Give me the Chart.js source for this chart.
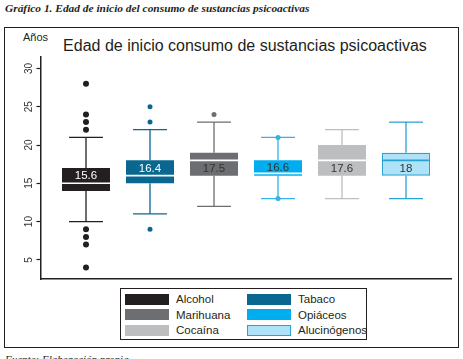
<!DOCTYPE html>
<html lang="es">
<head>
<meta charset="UTF-8">
<title>Edad de inicio consumo de sustancias psicoactivas</title>
<script src="https://cdn.jsdelivr.net/npm/chart.js"></script>
<style>
    body { margin: 0; width: 463px; height: 359px; overflow: hidden; background: #fff; position: relative; font-family: "Liberation Sans", Arial, sans-serif; color: #231f20; }
    .caption { position: absolute; left: 5px; top: 2px; font: italic bold 11.4px "Liberation Serif", "DejaVu Serif", serif; white-space: nowrap; }
    .frame { position: absolute; left: 4px; top: 27px; width: 455px; height: 321px; box-sizing: border-box; border: 1.5px solid #231f20; }
    .title { position: absolute; left: 0; width: 490px; top: 37px; text-align: center; font-size: 16px; white-space: nowrap; }
    .unit { position: absolute; left: 23px; top: 31px; font-size: 11px; }
    .source { position: absolute; left: 5px; top: 353px; font: italic 11px "Liberation Serif", serif; white-space: nowrap; }
    #legend { position: absolute; left: 120px; top: 288px; width: 247px; height: 52px; box-sizing: border-box; border: 1.3px solid #231f20; }
    .item { position: absolute; font-size: 11.5px; line-height: 14px; white-space: nowrap; }
    .item span { position: absolute; left: 0; top: 1.5px; width: 44px; height: 11px; box-sizing: border-box; }
    .item b { font-weight: normal; position: absolute; left: 51px; top: 0; }
    canvas { position: absolute; left: 0; top: 0; }
</style>
</head>
<body>
    <div class="caption">Gráfico 1. Edad de inicio del consumo de sustancias psicoactivas</div>
    <div class="frame"></div>
    <div class="unit">Años</div>
    <div class="title">Edad de inicio consumo de sustancias psicoactivas</div>
    <div id="legend"></div>
    <div class="source">Fuente: Elaboración propia</div>
    <canvas id="boxChart" width="463" height="359"></canvas>

<script>
// datos (años)
const categories = ['Alcohol', 'Tabaco', 'Marihuana', 'Opiáceos', 'Cocaína', 'Alucinógenos'];
const whiskerLow = [10, 11, 12, 13, 13, 13];
const q1 = [14, 15, 16, 16, 16, 16];
const medians = [15, 16, 18, 16.3, 18, 18];
const q3 = [17, 18, 19, 18, 20, 19];
const whiskerHigh = [21, 22, 23, 21, 22, 23];
const means = [15.6, 16.4, 17.5, 16.6, 17.6, 18];
const outliers = [[28, 24, 23, 22, 9, 8, 7, 4], [25, 23, 9], [24], [21, 13], [], []];
const yTicks = [5, 10, 15, 20, 25, 30];

// colores
const fills = ['#231f20', '#0a6890', '#6d6e71', '#00aeef', '#bcbec0', '#aee2f9'];
const strokes = ['#231f20', '#0a6890', '#6d6e71', '#35b2e6', '#bcbec0', '#29a3cf'];
const medianColors = ['#fff', '#fff', '#fff', '#fff', '#fff', '#29a3cf'];
const labelColors = ['#fff', '#fff', '#333', '#333', '#333', '#333'];

// leyenda en dos columnas (orden: filas)
const legend = document.getElementById('legend');
categories.forEach((name, i) => {
    const col = i % 2, row = Math.floor(i / 2);
    const div = document.createElement('div');
    div.className = 'item';
    div.style.left = (col ? 126 : 4) + 'px';
    div.style.top = (3 + row * 15.5) + 'px';
    const sw = document.createElement('span');
    sw.style.background = fills[i];
    if (i === 5) sw.style.border = '1px solid ' + strokes[i];
    const tx = document.createElement('b');
    tx.textContent = name;
    div.appendChild(sw);
    div.appendChild(tx);
    legend.appendChild(div);
});

const boxData = categories.map((c, i) => ({ x: i, y: [q1[i], q3[i]] }));
const outlierData = [];
outliers.forEach((list, i) => list.forEach(v => outlierData.push({ x: i, y: v })));

const boxParts = {
    id: 'boxParts',
    beforeDatasetsDraw(chart) {
        const { ctx, scales: { x, y } } = chart;
        ctx.save();
        ctx.lineWidth = 1.3;
        categories.forEach((c, i) => {
            const cx = x.getPixelForValue(i);
            const l = x.getPixelForValue(i - 0.265), r = x.getPixelForValue(i + 0.265);
            ctx.strokeStyle = strokes[i];
            ctx.beginPath();
            ctx.moveTo(cx, y.getPixelForValue(whiskerHigh[i]));
            ctx.lineTo(cx, y.getPixelForValue(q3[i]));
            ctx.moveTo(cx, y.getPixelForValue(q1[i]));
            ctx.lineTo(cx, y.getPixelForValue(whiskerLow[i]));
            [whiskerHigh[i], whiskerLow[i]].forEach(v => {
                const py = y.getPixelForValue(v);
                ctx.moveTo(l, py);
                ctx.lineTo(r, py);
            });
            ctx.stroke();
        });
        ctx.restore();
    },
    afterDatasetsDraw(chart) {
        const { ctx, scales: { y } } = chart;
        const bars = chart.getDatasetMeta(0).data;
        ctx.save();
        categories.forEach((c, i) => {
            const bar = bars[i];
            const half = bar.width / 2;
            const my = y.getPixelForValue(medians[i]);
            ctx.strokeStyle = medianColors[i];
            ctx.lineWidth = 1.6;
            ctx.beginPath();
            ctx.moveTo(bar.x - half + (i === 5 ? 1 : 0), my);
            ctx.lineTo(bar.x + half - (i === 5 ? 1 : 0), my);
            ctx.stroke();
            // etiqueta de la media en la parte mayor de la caja
            const upper = (q3[i] - medians[i]) > (medians[i] - q1[i]);
            const ly = upper ? (q3[i] + medians[i]) / 2 : (q1[i] + medians[i]) / 2;
            ctx.fillStyle = labelColors[i];
            ctx.font = '11.5px "Liberation Sans", Arial, sans-serif';
            ctx.textAlign = 'center';
            ctx.textBaseline = 'middle';
            ctx.fillText(String(means[i]), bar.x, y.getPixelForValue(ly) + 0.5);
        });
        ctx.restore();
    },
    afterDraw(chart) {
        // etiquetas del eje Y giradas
        const { ctx, scales: { y } } = chart;
        ctx.save();
        ctx.fillStyle = '#333';
        ctx.font = '10px "Liberation Sans", Arial, sans-serif';
        ctx.textAlign = 'center';
        ctx.textBaseline = 'middle';
        yTicks.forEach(v => {
            ctx.save();
            ctx.translate(29, y.getPixelForValue(v));
            ctx.rotate(-Math.PI / 2);
            ctx.fillText(String(v), 0, 0);
            ctx.restore();
        });
        ctx.restore();
    }
};

new Chart(document.getElementById('boxChart'), {
    type: 'bar',
    data: {
        datasets: [{
            label: 'Caja',
            data: boxData,
            backgroundColor: fills,
            borderColor: strokes,
            borderWidth: categories.map((c, i) => i === 5 ? 1.3 : 0),
            borderSkipped: false,
            categoryPercentage: 1,
            barPercentage: 0.75
        }, {
            type: 'scatter',
            label: 'Atípicos',
            data: outlierData,
            backgroundColor: ctx => strokes[ctx.raw ? ctx.raw.x : 0],
            borderWidth: 0,
            pointRadius: ctx => (ctx.raw && ctx.raw.x === 0 ? 3 : 2.5)
        }]
    },
    options: {
        responsive: false,
        animation: false,
        devicePixelRatio: 1,
        layout: { padding: { top: 57, bottom: 80, left: 36.5, right: 12 } },
        plugins: { legend: { display: false }, tooltip: { enabled: false }, title: { display: false } },
        scales: {
            x: {
                type: 'linear',
                min: -0.711,
                max: 5.703,
                offset: false,
                ticks: { display: false },
                grid: { display: false, drawTicks: false },
                border: { display: true, color: '#231f20', width: 1.5 },
                afterFit: s => { s.height = 0; }
            },
            y: {
                min: 2.5,
                max: 31.5,
                afterBuildTicks: s => { s.ticks = yTicks.map(v => ({ value: v })); },
                ticks: { display: false },
                grid: { display: true, drawOnChartArea: false, drawTicks: true, tickLength: 4, color: '#231f20', tickWidth: 1.2 },
                border: { display: true, color: '#231f20', width: 1.5 },
                afterFit: s => { s.width = 4; }
            }
        }
    },
    plugins: [boxParts]
});
</script>
</body>
</html>
